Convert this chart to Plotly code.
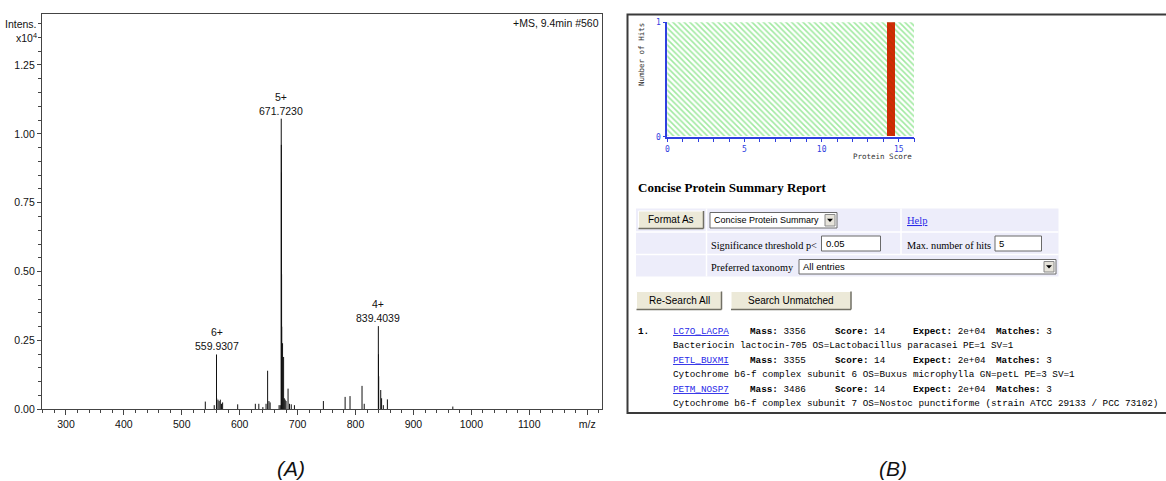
import plotly.graph_objects as go

# ---------------- data: panel (A) mass spectrum (intensity in x10^4) ----------------
peak_mz = [540.6, 556.0, 559.93, 560.2, 562.5, 564.5, 566.5, 568.5, 570.5, 596.5,
           627.0, 633.0, 640.0, 645.5, 648.2, 650.5, 652.5, 668.0, 670.0,
           671.72, 671.92, 672.12, 672.32, 672.52, 674.0, 675.8, 677.0, 678.5,
           680.0, 683.5, 686.0, 689.0, 694.5, 744.5, 782.0, 790.5, 811.2, 815.0,
           839.40, 839.65, 840.0, 843.5, 845.0, 848.0, 855.0, 968.0]
peak_int = [0.028, 0.015, 0.199, 0.04, 0.035, 0.03, 0.035, 0.02, 0.025, 0.018,
            0.02, 0.02, 0.008, 0.02, 0.14, 0.03, 0.025, 0.015, 0.015,
            1.055, 0.96, 0.86, 0.49, 0.30, 0.24, 0.19, 0.04, 0.035,
            0.03, 0.075, 0.02, 0.018, 0.015, 0.03, 0.045, 0.048, 0.085, 0.02,
            0.302, 0.20, 0.12, 0.07, 0.04, 0.015, 0.036, 0.01]
label_mz = [559.9307, 671.7230, 839.4039]
label_int = [0.199, 1.055, 0.302]
label_charge = ["6+", "5+", "4+"]
x_ticks = [300, 400, 500, 600, 700, 800, 900, 1000, 1100, 1200]
x_ticktext = ["300", "400", "500", "600", "700", "800", "900", "1000", "1100", "m/z"]
y_ticks = [0.0, 0.25, 0.5, 0.75, 1.0, 1.25]
scan_info = "+MS, 9.4min #560"

# ---------------- data: panel (B) Mascot report ----------------
sig_region = 16          # score range of the hatched (non-significant) region
hist_score = [14.5]
hist_hits = [1]
hist_xticks = [0, 5, 10, 15]
hits_acc = ["LC7O_LACPA", "PETL_BUXMI", "PETM_NOSP7"]
hits_mass = [3356, 3355, 3486]
hits_score = [14, 14, 14]
hits_expect = ["2e+04", "2e+04", "2e+04"]
hits_matches = [3, 3, 3]
hits_desc = ["Bacteriocin lactocin-705 OS=Lactobacillus paracasei PE=1 SV=1",
             "Cytochrome b6-f complex subunit 6 OS=Buxus microphylla GN=petL PE=3 SV=1",
             "Cytochrome b6-f complex subunit 7 OS=Nostoc punctiforme (strain ATCC 29133 / PCC 73102)"]

W, H = 1166, 481
def X(p): return p / W
def Y(p): return 1 - p / H

NARROW = "Liberation Sans Narrow, Arial Narrow, Liberation Sans, Arial"
SANS = "Liberation Sans, Arial"
SERIF = "Liberation Serif, Times New Roman"
MONO = "Liberation Mono, Courier New, monospace"
PIX = "DejaVu Sans Mono, monospace"
BLUE = "#3040e0"
LINK = "#2a2ae8"
FS_A = 10.5
FS_M = 9.3

fig = go.Figure()

# stems of the spectrum
xs, ys = [], []
for m, h in zip(peak_mz, peak_int):
    xs += [m, m, None]
    ys += [0, h, None]
fig.add_trace(go.Scatter(x=xs, y=ys, mode="lines", line=dict(color="#111", width=1),
                         xaxis="x", yaxis="y", hoverinfo="skip"))

# histogram in panel B
fig.add_trace(go.Bar(x=[sig_region / 2], y=[max(hist_hits)], width=[sig_region],
                     marker=dict(color="white", line=dict(width=0),
                                 pattern=dict(shape="\\", fgcolor="#44d444", bgcolor="white",
                                              size=4, solidity=0.4)),
                     xaxis="x2", yaxis="y2", hoverinfo="skip"))
fig.add_trace(go.Bar(x=hist_score, y=hist_hits, width=[0.5] * len(hist_score),
                     marker=dict(color="#cc2a05", line=dict(width=0),
                                 pattern=dict(shape="\\", fgcolor="#9a3a00", bgcolor="#d42a05",
                                              size=4, solidity=0.3)),
                     xaxis="x2", yaxis="y2", hoverinfo="skip"))

ann = []
shapes = []

def txt(x, y, s, size, family, color="#000", xanchor="left", **kw):
    d = dict(xref="paper", yref="paper", x=X(x), y=Y(y), text=s, showarrow=False,
             xanchor=xanchor, yanchor="middle", font=dict(size=size, family=family, color=color))
    d.update(kw)
    ann.append(d)

def rect(x0, y0, x1, y1, fill=None, line="#000", lw=1):
    shapes.append(dict(type="rect", xref="paper", yref="paper", x0=X(x0), x1=X(x1),
                       y0=Y(y1), y1=Y(y0), fillcolor=fill or "rgba(0,0,0,0)",
                       line=dict(color=line, width=lw), layer="above"))

def seg(x0, y0, x1, y1, color, lw=1):
    shapes.append(dict(type="line", xref="paper", yref="paper", x0=X(x0), x1=X(x1),
                       y0=Y(y0), y1=Y(y1), line=dict(color=color, width=lw), layer="above"))

def button(x0, y0, x1, y1, label):
    rect(x0, y0, x1, y1, fill="#ece9d8", line="rgba(0,0,0,0)", lw=0)
    seg(x0, y0, x1, y0, "#ffffff")
    seg(x0, y0, x0, y1, "#ffffff")
    seg(x0, y1, x1, y1, "#716f64", 1.5)
    seg(x1, y0, x1, y1, "#716f64", 1.5)
    txt((x0 + x1) / 2, (y0 + y1) / 2, label, 10, SANS, xanchor="center")

def select(x0, y0, x1, y1, label, size=9.5):
    rect(x0, y0, x1, y1, fill="white", line="#6a6a6a")
    rect(x1 - 12, y0 + 2, x1 - 2, y1 - 2, fill="#e6e3da", line="#8a8a8a")
    cx, cy = x1 - 7, (y0 + y1) / 2
    shapes.append(dict(type="path", xref="paper", yref="paper",
                       path=f"M {X(cx-3)},{Y(cy-1.5)} L {X(cx+3)},{Y(cy-1.5)} L {X(cx)},{Y(cy+1.8)} Z",
                       fillcolor="#000", line=dict(width=0), layer="above"))
    txt(x0 + 2, (y0 + y1) / 2, label, size, SANS)

def inp(x0, y0, x1, y1, label):
    rect(x0, y0, x1, y1, fill="white", line="#6a6a6a")
    txt(x0 + 2, (y0 + y1) / 2, label, 9.5, SANS)

# ---- panel A texts ----
for m, h, c in zip(label_mz, label_int, label_charge):
    ann.append(dict(x=m, y=h, xref="x", yref="y", text=f"{c}<br>{m:.4f}", showarrow=False,
                    xanchor="center", yanchor="bottom", yshift=0,
                    font=dict(size=FS_A, family=NARROW, color="#111")))
txt(601, 23, scan_info, FS_A, NARROW, "#111", xanchor="right")
ann.append(dict(xref="paper", yref="y", x=X(42), y=1.40, xshift=-3, text="Intens.", showarrow=False,
                xanchor="right", yanchor="middle", font=dict(size=FS_A, family=NARROW, color="#111")))
ann.append(dict(xref="paper", yref="y", x=X(42), y=1.35, xshift=-3, text="x10<sup>4</sup>", showarrow=False,
                xanchor="right", yanchor="middle", font=dict(size=FS_A, family=NARROW, color="#111")))
txt(291, 468, "<i>(A)</i>", 21, SANS, "#111", xanchor="center")
txt(893, 468, "<i>(B)</i>", 21, SANS, "#111", xanchor="center")

# ---- panel B frame and histogram labels ----
rect(627.5, 14.5, 1172, 413, line="#3a3a3a", lw=2)
txt(641, 55, "Number of Hits", 7.5, PIX, "#333", xanchor="center", textangle=-90)
txt(914, 157, "Protein Score", 7.5, PIX, "#333", xanchor="right")

# ---- report header & form ----
txt(636, 187, "<b>Concise Protein Summary Report</b>", 13, SERIF)
rect(636, 208.5, 1058.5, 276.5, fill="#ededfa", line="rgba(0,0,0,0)", lw=0)
seg(636, 232, 1058.5, 232, "white", 1.5)
seg(636, 254.5, 1058.5, 254.5, "white", 1.5)
seg(706.5, 208.5, 706.5, 276.5, "white", 1.5)
seg(901, 208.5, 901, 254.5, "white", 1.5)
button(638.5, 211, 703.5, 228.5, "Format As")
select(710, 212.5, 837, 228, "Concise Protein Summary", 9.0)
txt(904.5, 220, "<u>Help</u>", 10.5, SERIF, LINK)
txt(709, 245, "Significance threshold p&lt;", 10.3, SERIF)
inp(821.5, 236, 880.5, 251, "0.05")
txt(904.5, 245, "Max. number of hits", 10.3, SERIF)
inp(995, 236, 1041.5, 251, "5")
txt(709, 267, "Preferred taxonomy", 10.3, SERIF)
select(799, 259.5, 1056, 274, "All entries")
button(636.5, 291.5, 721.5, 309.5, "Re-Search All")
button(731, 291.5, 851, 309.5, "Search Unmatched")

# ---- hit list ----
row_y = [331, 360, 389]
for i in range(len(hits_acc)):
    y = row_y[i]
    if i == 0:
        txt(636, y, "<b>1.</b>", FS_M, MONO)
    txt(671, y, f"<u>{hits_acc[i]}</u>", FS_M, MONO, LINK)
    txt(748.3, y, f"<b>Mass:</b> {hits_mass[i]}", FS_M, MONO)
    txt(833.3, y, f"<b>Score:</b> {hits_score[i]}", FS_M, MONO)
    txt(911, y, f"<b>Expect:</b> {hits_expect[i]}", FS_M, MONO)
    txt(994.3, y, f"<b>Matches:</b> {hits_matches[i]}", FS_M, MONO)
    # the page cuts the description at the right edge of the picture
    txt(671, y + 14.3, hits_desc[i], FS_M, MONO, width=W - 673, align="left")

axis_col = "#444"
fig.update_layout(
    width=W, height=H, margin=dict(l=0, r=0, t=0, b=0, autoexpand=False),
    paper_bgcolor="white", plot_bgcolor="white", showlegend=False,
    barmode="overlay", bargap=0,
    xaxis=dict(domain=[X(42), X(602)], range=[258.6, 1225.6], anchor="y", automargin=False,
               showline=True, linecolor=axis_col, linewidth=1.2, mirror=True,
               showgrid=False, zeroline=False, ticks="outside", ticklen=5, tickcolor=axis_col,
               tickvals=x_ticks, ticktext=x_ticktext,
               minor=dict(dtick=20, tick0=0, ticks="outside", ticklen=3, tickcolor=axis_col),
               tickfont=dict(size=FS_A, family=NARROW, color="#111")),
    yaxis=dict(domain=[Y(409.3), Y(14)], range=[0, 1.435], anchor="x", automargin=False,
               showline=True, linecolor=axis_col, linewidth=1.2, mirror=True,
               showgrid=False, zeroline=False, ticks="outside", ticklen=4, tickcolor=axis_col,
               tickvals=y_ticks, ticktext=[f"{v:.2f}" for v in y_ticks],
               minor=dict(dtick=0.05, tick0=0, ticks="outside", ticklen=3, tickcolor=axis_col),
               tickfont=dict(size=FS_A, family=NARROW, color="#111")),
    xaxis2=dict(domain=[X(667.3), X(914.3)], range=[0, sig_region], anchor="y2", automargin=False,
                showline=True, linecolor=BLUE, linewidth=1.5, showgrid=False, zeroline=False,
                ticks="outside", ticklen=4, tickcolor=BLUE, tickvals=hist_xticks,
                minor=dict(dtick=1, tick0=0, ticks="outside", ticklen=4, tickcolor=BLUE),
                tickfont=dict(size=8, family=PIX, color=BLUE)),
    yaxis2=dict(domain=[Y(136.7), Y(22.3)], range=[0, max(hist_hits)], anchor="x2", automargin=False,
                showline=True, linecolor=BLUE, linewidth=1.5, showgrid=False, zeroline=False,
                ticks="outside", ticklen=3, tickcolor=BLUE, tickvals=[0, 1], ticktext=["0", "1"],
                tickfont=dict(size=8, family=PIX, color=BLUE)),
    annotations=ann, shapes=shapes,
)

fig.write_html("out.html", config={"displayModeBar": False},
               post_script="document.body.style.margin='0';document.body.style.overflow='hidden';")
